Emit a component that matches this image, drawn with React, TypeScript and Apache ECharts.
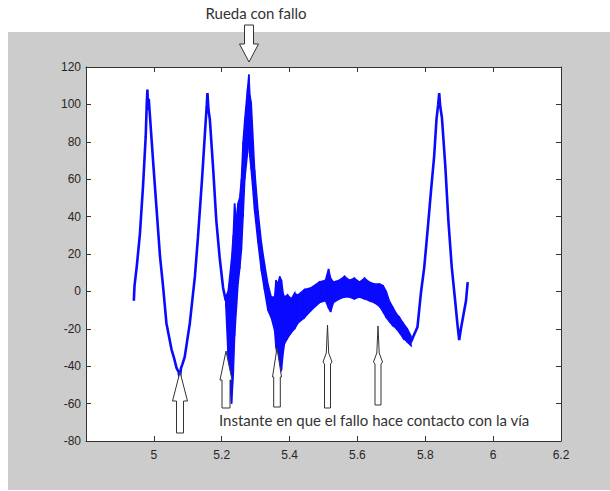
import React, { useEffect, useRef } from "react";
import * as echarts from "echarts";

// Clean parts of the signal
const leftX = [4.941, 4.943, 4.95, 4.959, 4.968, 4.976, 4.979, 4.981, 4.983, 4.985, 4.988, 4.998, 5.008, 5.018, 5.027, 5.037, 5.052, 5.06, 5.067, 5.073, 5.076, 5.08, 5.084, 5.091, 5.106, 5.121, 5.13, 5.142, 5.15, 5.156, 5.158, 5.161, 5.165, 5.175, 5.184, 5.194, 5.204, 5.212];
const leftY = [-5, 3, 14, 31, 56, 83, 100, 108, 97, 103, 95, 69, 44, 19, 3, -17, -31, -36, -41, -43, -47, -41, -39, -35, -17, 8, 29, 60, 83, 100, 106, 97, 92, 65, 38, 18, 2, -5];

const rightX = [5.758, 5.765, 5.777, 5.787, 5.797, 5.807, 5.817, 5.826, 5.833, 5.838, 5.841, 5.844, 5.849, 5.859, 5.868, 5.878, 5.888, 5.895, 5.9, 5.905, 5.91, 5.92, 5.925];
const rightY = [-27, -24, -19, -1, 13, 33, 54, 72, 92, 100, 106, 99, 93, 67, 38, 13, -5, -18, -26, -20, -15, -5, 5];

// Noisy region: lower and upper envelope of the signal
const bandX = [5.212, 5.219, 5.229, 5.234, 5.238, 5.243, 5.248, 5.253, 5.258, 5.263, 5.268, 5.276, 5.28, 5.283, 5.287, 5.297, 5.307, 5.317, 5.326, 5.336, 5.346, 5.356, 5.36, 5.366, 5.371, 5.376, 5.381, 5.385, 5.394, 5.405, 5.415, 5.424, 5.444, 5.464, 5.488, 5.506, 5.515, 5.521, 5.529, 5.547, 5.562, 5.576, 5.591, 5.606, 5.621, 5.635, 5.65, 5.665, 5.676, 5.685, 5.694, 5.703, 5.715, 5.724, 5.735, 5.747, 5.758];
const bandLow = [-7, -35, -60, -45, -24, -10, 4, 12, 22, 40, 60, 74, 80, 72, 65, 43, 26, 11, 1, -10, -14, -21, -30, -37, -44, -42, -33, -28, -25, -22, -20, -17, -14, -10, -6, -5, -9, -11, -6, -4, -3, -3, -4, -3, -4, -5, -6, -8, -11, -14, -16, -18, -20, -22, -25, -27, -29];
const bandHigh = [-3, 0, 17, 30, 47, 38, 47, 50, 60, 80, 92, 108, 116, 105, 101, 65, 43, 26, 15, 4, -3, -3, 6, 4, 8, 6, -1, -3, -2, -4, -1, -2, 1, 2, 5, 6, 12, 7, 5, 6, 8, 6, 7, 5, 7, 5, 4, 4, 3, 0, -5, -8, -12, -14, -17, -20, -24];

const xTicksMin = 4.8;
const xTicksMax = 6.2;
const xStep = 0.2;
const yTicksMin = -80;
const yTicksMax = 120;
const yStep = 20;

const topLabel = "Rueda con fallo";
const bottomLabel = "Instante en que el fallo hace contacto con la vía";

const BLUE = "#0a0aff";
const AX = "#333333";

function upArrow(tipX: number, tipY: number, headY: number, headHalf: number, shaftHalf: number, bottomY: number) {
  return [
    [tipX, tipY],
    [tipX + headHalf, headY],
    [tipX + shaftHalf, headY],
    [tipX + shaftHalf, bottomY],
    [tipX - shaftHalf, bottomY],
    [tipX - shaftHalf, headY],
    [tipX - headHalf, headY],
  ];
}

function thinArrow(tipX: number, tipY: number, bulgeY: number, bottomY: number) {
  return [
    [tipX, tipY],
    [tipX + 1.2, bulgeY - 9],
    [tipX + 4.5, bulgeY],
    [tipX + 3, bulgeY + 2],
    [tipX + 3, bottomY],
    [tipX - 3, bottomY],
    [tipX - 3, bulgeY + 2],
    [tipX - 4.5, bulgeY],
    [tipX - 1.2, bulgeY - 9],
  ];
}

export default function App() {
  const ref = useRef<HTMLDivElement>(null);
  useEffect(() => {
    if (!ref.current) return;
    const chart = echarts.init(ref.current, null, { renderer: "svg" });
    const left = leftX.map((x, i) => [x, leftY[i]]);
    const right = rightX.map((x, i) => [x, rightY[i]]);
    const segs: number[][] = [];
    for (let i = 0; i < bandX.length - 1; i++) {
      segs.push([bandX[i], bandLow[i], bandHigh[i], bandX[i + 1], bandLow[i + 1], bandHigh[i + 1]]);
    }

    const arrowStyle = { fill: "#ffffff", stroke: "#333333", lineWidth: 1 };
    const axisCommon = {
      type: "value" as const,
      splitLine: { show: false },
      axisLine: { show: true, onZero: false, lineStyle: { color: AX, width: 1 } },
      axisTick: { show: true, inside: true, length: 5, lineStyle: { color: AX } },
    };
    const labelStyle = { color: "#262626", fontSize: 12, fontFamily: "Liberation Sans, Arial, sans-serif" };

    chart.setOption({
      animation: false,
      backgroundColor: "#ffffff",
      grid: { left: 86, right: 49, top: 67, bottom: 50, show: true, backgroundColor: "#ffffff", borderWidth: 0 },
      xAxis: [
        {
          ...axisCommon,
          position: "bottom",
          min: xTicksMin,
          max: xTicksMax,
          interval: xStep,
          axisLabel: {
            ...labelStyle,
            margin: 8,
            formatter: (v: number) => (Math.abs(v - xTicksMin) < 1e-6 ? "" : String(Math.round(v * 10) / 10)),
          },
        },
        {
          ...axisCommon,
          position: "top",
          min: xTicksMin,
          max: xTicksMax,
          interval: xStep,
          axisLabel: { show: false },
        },
      ],
      yAxis: [
        {
          ...axisCommon,
          position: "left",
          min: yTicksMin,
          max: yTicksMax,
          interval: yStep,
          axisLabel: { ...labelStyle, margin: 5 },
        },
        {
          ...axisCommon,
          position: "right",
          min: yTicksMin,
          max: yTicksMax,
          interval: yStep,
          axisLabel: { show: false },
        },
      ],
      series: [
        {
          type: "line",
          data: left,
          showSymbol: false,
          lineStyle: { color: BLUE, width: 2.6 },
        },
        {
          type: "line",
          data: right,
          showSymbol: false,
          lineStyle: { color: BLUE, width: 2.6 },
        },
        {
          type: "custom",
          data: segs,
          encode: { x: [0, 3], y: [1, 2, 4, 5] },
          renderItem: (params: any, api: any) => {
            const p0l = api.coord([api.value(0), api.value(1)]);
            const p0h = api.coord([api.value(0), api.value(2)]);
            const p1l = api.coord([api.value(3), api.value(4)]);
            const p1h = api.coord([api.value(3), api.value(5)]);
            return {
              type: "polygon",
              shape: { points: [p0l, p1l, p1h, p0h] },
              style: { fill: BLUE, stroke: BLUE, lineWidth: 1.5 },
            };
          },
        },
      ],
      graphic: [
        { type: "rect", z: -100, shape: { x: 8, y: 32, width: 602, height: 458 }, style: { fill: "#cccccc" } },
        {
          type: "text",
          z: 100,
          x: 256,
          y: 13,
          style: { text: topLabel, fill: "#333333", font: "15px Lato, sans-serif", textAlign: "center", textVerticalAlign: "middle" },
        },
        {
          type: "polygon",
          z: 100,
          shape: {
            points: [
              [244.5, 25], [253.5, 25], [253.5, 44], [258.5, 44], [249, 62], [239.5, 44], [244.5, 44],
            ],
          },
          style: arrowStyle,
        },
        { type: "polygon", z: 100, shape: { points: upArrow(180, 372, 401, 7.5, 3.5, 433) }, style: arrowStyle },
        { type: "polygon", z: 100, shape: { points: upArrow(226, 351, 380, 6, 4, 408) }, style: arrowStyle },
        { type: "polygon", z: 100, shape: { points: upArrow(277, 348, 377, 4.5, 3.3, 407) }, style: arrowStyle },
        { type: "polygon", z: 100, shape: { points: thinArrow(327.5, 325, 362, 408) }, style: arrowStyle },
        { type: "polygon", z: 100, shape: { points: thinArrow(378, 326, 362, 405) }, style: arrowStyle },
        {
          type: "text",
          z: 100,
          x: 219,
          y: 420,
          style: { text: bottomLabel, fill: "#333333", font: "15px Lato, sans-serif", textAlign: "left", textVerticalAlign: "middle" },
        },
      ],
    });
    return () => chart.dispose();
  }, []);
  return <div ref={ref} style={{ position: "fixed", left: 0, top: 0, width: 610, height: 491 }} />;
}
